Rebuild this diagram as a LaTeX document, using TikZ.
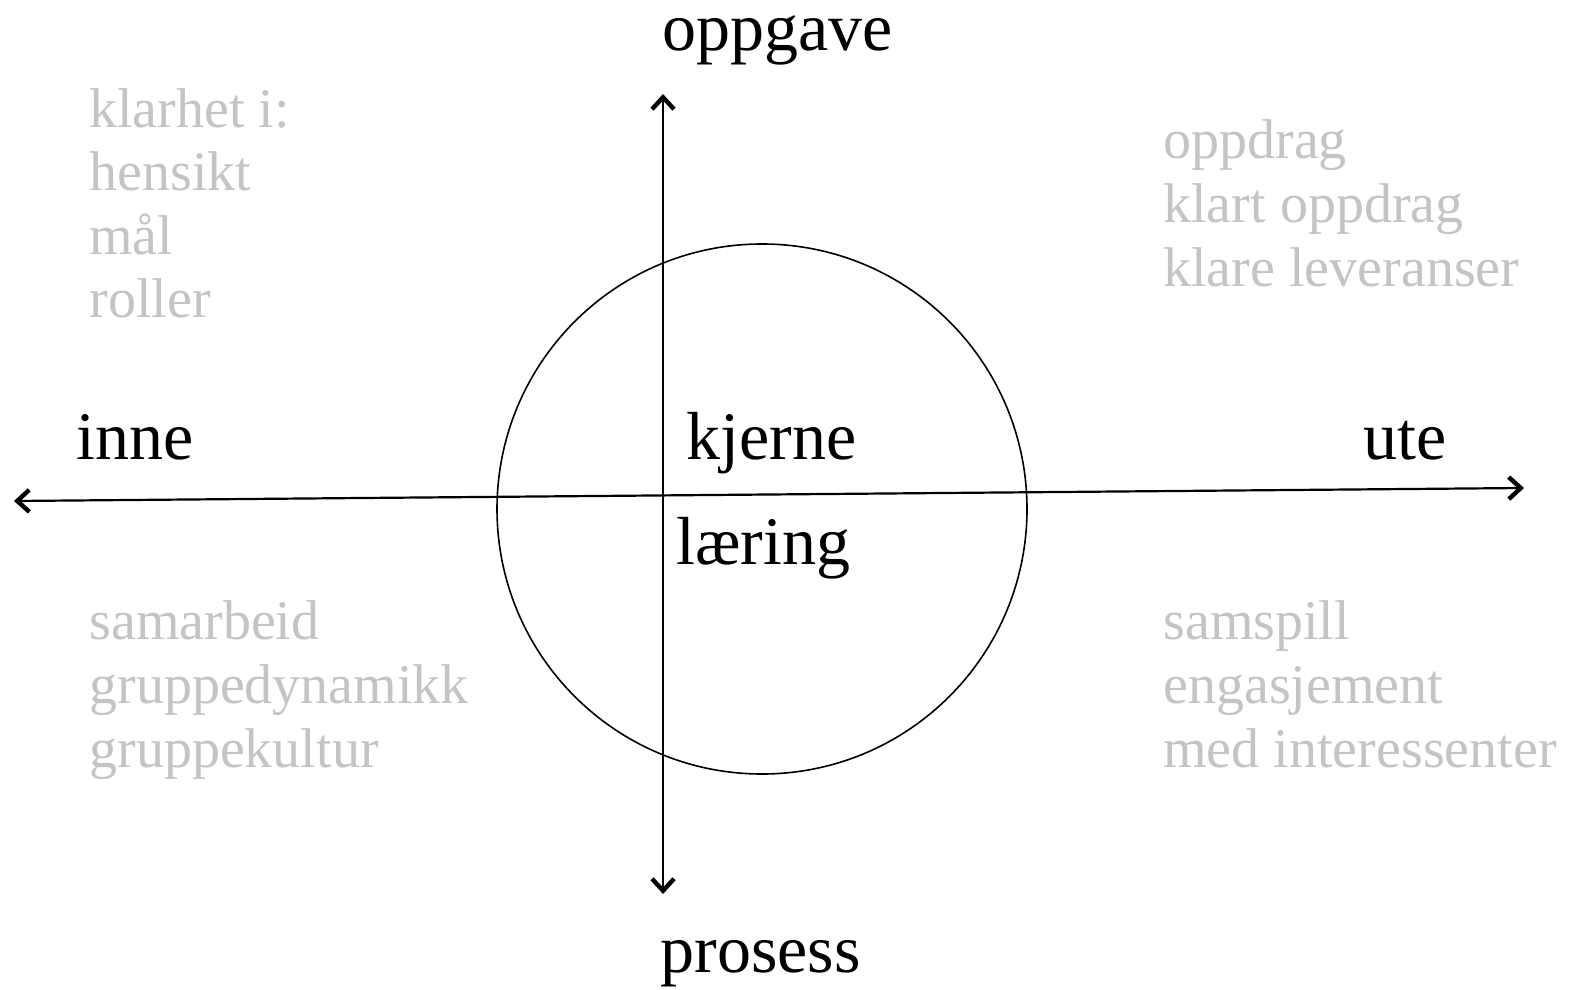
\documentclass[tikz,border=0pt]{standalone}
\usepackage{fontspec}
\setmainfont{Liberation Serif}
\usetikzlibrary{arrows.meta}
\definecolor{notegray}{RGB}{196,196,196}

\begin{document}
\begin{tikzpicture}[x=0.5pt,y=-0.5pt,
  axisline/.style={line width=1.1pt, {Straight Barb[length=6pt,width=11pt,line width=2.2pt]}-{Straight Barb[length=6pt,width=11pt,line width=2.2pt]}},
  pole/.style={inner sep=0pt, anchor=base west, font=\fontsize{34}{40}\selectfont},
  note/.style={inner sep=0pt, anchor=base west, align=left, text=notegray, font=\fontsize{28}{31.8}\selectfont}]
\useasboundingbox (0,0) rectangle (1593,989);
%circle:
\node[draw, circle, line width=0.8pt, inner sep=0pt, minimum size=265pt] (core) at (762,509) {};
%axes:
\coordinate (top) at (663,94);
\coordinate (bottom) at (663,894);
\coordinate (west) at (14,501);
\coordinate (east) at (1524,488);
\draw[axisline] (bottom) -- (top);
\draw[axisline] (west) -- (east);
%labels:
\node[pole] (oppgave) at (662,51) {oppgave};
\node[pole] (prosess) at (660,972) {prosess};
\node[pole] (inne) at (76,459) {inne};
\node[pole] (ute) at (1363,459) {ute};
\node[pole] (kjerne) at (686,459) {kjerne};
\node[pole] (laering) at (676,564) {læring};
%quadrants (anchored on last line):
\node[note] (klarhet) at (89,318) {klarhet i:\\hensikt\\mål\\roller};
\node[note] (oppdrag) at (1163,286) {oppdrag\\klart oppdrag\\klare leveranser};
\node[note] (samarbeid) at (89,767) {samarbeid\\gruppedynamikk\\gruppekultur};
\node[note] (samspill) at (1163,767) {samspill\\engasjement\\med interessenter};
\end{tikzpicture}
\end{document}
